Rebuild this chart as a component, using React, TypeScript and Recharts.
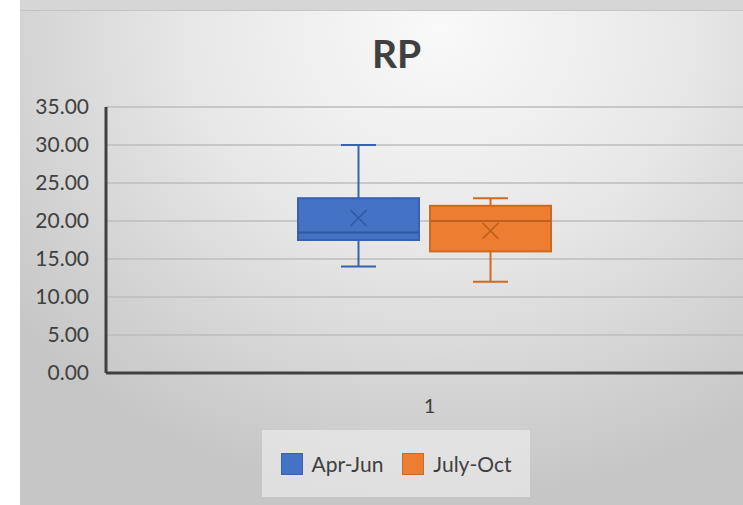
import React from 'react';
import { ComposedChart, Bar, XAxis, YAxis, CartesianGrid, Legend } from 'recharts';

const categories = ['1'];
const seriesNames = ['Apr-Jun', 'July-Oct'];
const seriesKeys = ['aprJun', 'julyOct'];
const minVals = [14, 12];
const q1Vals = [17.5, 16];
const medianVals = [18.5, 20];
const q3Vals = [23, 22];
const maxVals = [30, 23];
const meanVals = [20.4, 18.7];
const yTicks = [0, 5, 10, 15, 20, 25, 30, 35];

const fills = ['#4472C4', '#ED7D31'];
const strokes = ['#3862b0', '#d0691f'];
const marks = ['#3159a3', '#c0601c'];

const FONT = 'Lato, "Open Sans", sans-serif';

const data = categories.map((name) => {
  const row: Record<string, string | number> = { name };
  seriesKeys.forEach((k, s) => {
    row[k] = maxVals[s];
  });
  return row;
});

function boxShape(s: number) {
  return (props: any) => {
    const { x, y, width, height } = props;
    if (!height) return <g />;
    const unit = height / maxVals[s];
    const base = y + height;
    const py = (v: number) => base - v * unit;
    const cx = x + width / 2;
    const cap = 17.5;
    const m = 8;
    const top = py(q3Vals[s]);
    const bot = py(q1Vals[s]);
    return (
      <g>
        <line x1={cx} x2={cx} y1={py(maxVals[s])} y2={top} stroke={strokes[s]} strokeWidth={2} />
        <line x1={cx - cap} x2={cx + cap} y1={py(maxVals[s])} y2={py(maxVals[s])} stroke={strokes[s]} strokeWidth={2} />
        <line x1={cx} x2={cx} y1={bot} y2={py(minVals[s])} stroke={strokes[s]} strokeWidth={2} />
        <line x1={cx - cap} x2={cx + cap} y1={py(minVals[s])} y2={py(minVals[s])} stroke={strokes[s]} strokeWidth={2} />
        <rect x={x} y={top} width={width} height={bot - top} fill={fills[s]} stroke={strokes[s]} strokeWidth={2} />
        <line x1={x} x2={x + width} y1={py(medianVals[s])} y2={py(medianVals[s])} stroke={marks[s]} strokeWidth={2} />
        <line x1={cx - m} x2={cx + m} y1={py(meanVals[s]) - m} y2={py(meanVals[s]) + m} stroke={marks[s]} strokeWidth={1.5} />
        <line x1={cx - m} x2={cx + m} y1={py(meanVals[s]) + m} y2={py(meanVals[s]) - m} stroke={marks[s]} strokeWidth={1.5} />
      </g>
    );
  };
}

function LegendBox() {
  return (
    <div
      style={{
        height: 67,
        background: 'rgba(240,240,240,0.6)',
        display: 'flex',
        alignItems: 'center',
        justifyContent: 'center',
        fontFamily: FONT,
        fontSize: 21,
        color: '#404040',
      }}
    >
      {seriesNames.map((n, s) => (
        <div key={n} style={{ display: 'flex', alignItems: 'center', marginRight: s === 0 ? 19 : 0 }}>
          <div style={{ width: 20, height: 20, background: fills[s], border: `1px solid ${strokes[s]}`, marginRight: 9 }} />
          <span>{n}</span>
        </div>
      ))}
    </div>
  );
}

export default function App() {
  return (
    <div style={{ position: 'absolute', left: 0, top: 0, width: 743, height: 505, background: '#fff', overflow: 'hidden' }}>
      <div style={{ position: 'absolute', left: 20, top: 0, width: 723, height: 10, background: '#d6d6d6', borderBottom: '1px solid #c4c4c4' }} />
      <div
        style={{
          position: 'absolute',
          left: 20,
          top: 11,
          width: 723,
          height: 494,
          background: 'radial-gradient(ellipse 75% 95% at 58% 4%, #f9f9f9 0%, #e8e8e8 45%, #d2d2d2 80%, #c6c6c6 100%)',
        }}
      />
      <div
        style={{
          position: 'absolute',
          left: 0,
          width: 793,
          top: 30,
          textAlign: 'center',
          fontFamily: FONT,
          fontWeight: 700,
          fontSize: 39,
          color: '#404040',
        }}
      >
        RP
      </div>
      <div style={{ position: 'absolute', left: 0, top: 0 }}>
        <ComposedChart
          width={743}
          height={505}
          data={data}
          margin={{ top: 107, right: 0, bottom: 8, left: 20 }}
          barSize={121}
          barGap={11}
        >
          <CartesianGrid vertical={false} stroke="#bdbdbd" strokeWidth={1.5} />
          <XAxis
            dataKey="name"
            height={57}
            tickLine={false}
            tickSize={0}
            tickMargin={26}
            axisLine={{ stroke: '#404040', strokeWidth: 3 }}
            tick={{ fill: '#404040', fontSize: 20, fontFamily: FONT, dx: 5 }}
          />
          <YAxis
            width={86}
            domain={[0, 35]}
            ticks={yTicks}
            interval={0}
            tickLine={false}
            tickSize={0}
            tickMargin={17}
            tickFormatter={(v: number) => v.toFixed(2)}
            axisLine={{ stroke: '#404040', strokeWidth: 3 }}
            tick={{ fill: '#404040', fontSize: 21, fontFamily: FONT }}
          />
          {seriesKeys.map((k, s) => (
            <Bar key={k} dataKey={k} name={seriesNames[s]} fill={fills[s]} shape={boxShape(s)} isAnimationActive={false} />
          ))}
          <Legend
            verticalAlign="bottom"
            content={() => <LegendBox />}
            wrapperStyle={{ left: 262, width: 268, bottom: 8 }}
          />
        </ComposedChart>
      </div>
    </div>
  );
}
